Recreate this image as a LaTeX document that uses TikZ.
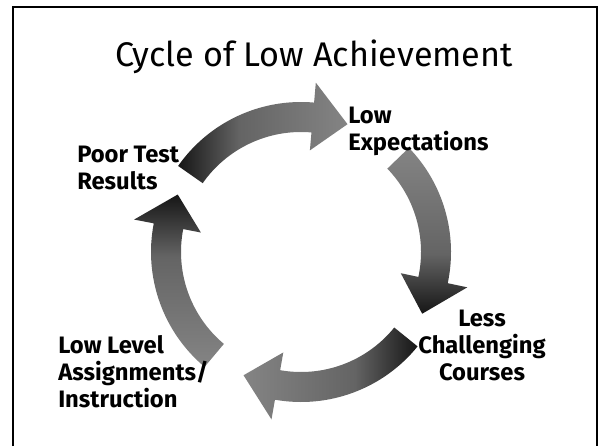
\documentclass[tikz,border=0pt]{standalone}
\usepackage{fontspec}
\setmainfont{Fira Sans}
\usetikzlibrary{positioning}
\definecolor{greyi}{RGB}{22,22,22}
\definecolor{greyii}{RGB}{100,100,100}
\definecolor{greyiii}{RGB}{132,132,132}
\pgfdeclarehorizontalshading{cycshade}{100bp}{color(0bp)=(greyi); color(25bp)=(greyi); color(43bp)=(greyii); color(75bp)=(greyiii); color(100bp)=(greyiii)}
\tikzset{
      cyctitle/.style={
        font=\fontsize{24.3}{29}\selectfont,
        anchor=base,
        inner sep=0pt
      },
      cyclabel/.style={
        font=\fontsize{16.9}{19.2}\selectfont\bfseries,
        inner sep=0pt,
        align=#1
      },
      cyclabel/.default=left,
      cycarrow/.style={
        shading=cycshade,
        shading angle=#1
      },
      slideframe/.style={
        line width=1.4pt
      },
    }
\begin{document}
\begin{tikzpicture}[x=0.025cm,y=0.025cm]
          \useasboundingbox (0,0) rectangle (602,446);
          \draw[slideframe] (13,0) -- (13,439) -- (597,439) -- (597,0);

          \node[cyctitle]
            (title) at (314,379)
            {Cycle of Low Achievement};

          % the four curved arrows round the hub
          \coordinate (hub) at (301,194);
          \begin{scope}[shift={(hub)}]
          \foreach \tail/\shaft/\tip/\ang in {145/85/70/0, 44/-12/-27/90, -39/-100/-115/180, -130/-191/-205/270}
            \shade[cycarrow=\ang] (\tail:150) arc[start angle=\tail, end angle=\shaft, radius=150]
              -- (\shaft:170) -- (\tip:136) -- (\shaft:102) -- (\shaft:120)
              arc[start angle=\shaft, end angle=\tail, radius=120] -- cycle;
          \end{scope}

          \node[cyclabel,anchor=north west]
            (lowexp) at (348,339)
            {Low\\Expectations};
          \node[cyclabel=center,anchor=north]
            (lesschal) at (482,136)
            {Less\\Challenging\\Courses};
          \node[cyclabel,anchor=north west]
            (lowlevel) at (58,111)
            {Low Level\\Assignments/\\Instruction};
          \node[cyclabel,anchor=north west]
            (poortest) at (77,300)
            {Poor Test\\Results};
        \end{tikzpicture}
\end{document}
